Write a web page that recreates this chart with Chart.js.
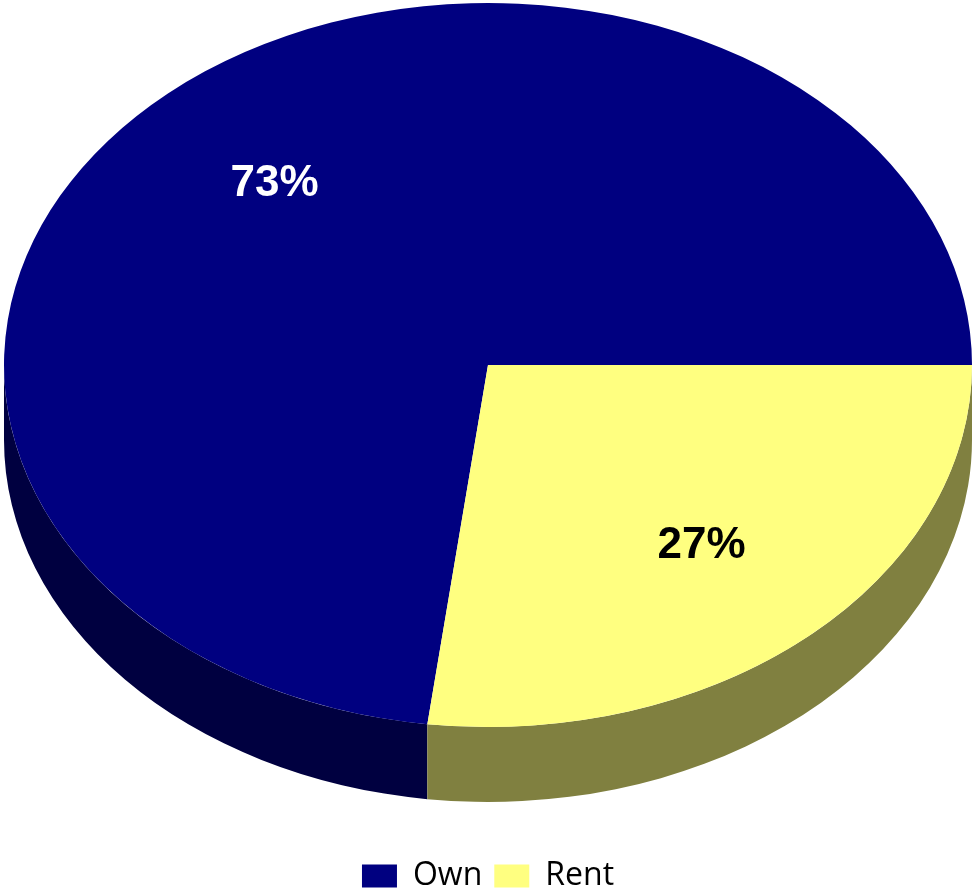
<!DOCTYPE html>
<html>
<head>
<meta charset="utf-8">
<script src="https://cdn.jsdelivr.net/npm/chart.js@4.4.1/dist/chart.umd.min.js"></script>
<style>
  html, body { margin: 0; padding: 0; background: #fff; }
  #wrap { width: 972px; height: 892px; position: relative; }
</style>
</head>
<body>
<div id="wrap"><canvas id="grafico"></canvas></div>
<script>
// dados do gráfico
const categorias = ["Own", "Rent"];
const valores = [73, 27];
const rotulos = ["73%", "27%"];

const coresTopo = ["#000080", "#FFFF80"];
const coresLado = ["#000040", "#808040"];
const coresTexto = ["#ffffff", "#000000"];

// parâmetros do efeito 3D
const CENTRO_Y = 365;
const ACHATAMENTO = 362 / 484;
const PROFUNDIDADE = 75;

const pizza3d = {
    id: "pizza3d",
    beforeDatasetsDraw(chart) {
        const ctx = chart.ctx;
        const arcos = chart.getDatasetMeta(0).data;
        const y0 = arcos[0].y;
        ctx.save();
        ctx.translate(0, CENTRO_Y);
        ctx.scale(1, ACHATAMENTO);
        ctx.translate(0, -y0);

        // lateral (só a metade da frente aparece)
        const d = PROFUNDIDADE / ACHATAMENTO;
        arcos.forEach((arco, i) => {
            const p = arco.getProps(["x", "y", "startAngle", "endAngle", "outerRadius"], true);
            for (let k = -1; k <= 1; k++) {
                const s = Math.max(p.startAngle + k * 2 * Math.PI, 0);
                const e = Math.min(p.endAngle + k * 2 * Math.PI, Math.PI);
                if (e <= s) continue;
                ctx.beginPath();
                ctx.arc(p.x, p.y, p.outerRadius, s, e);
                ctx.arc(p.x, p.y + d, p.outerRadius, e, s, true);
                ctx.closePath();
                ctx.fillStyle = coresLado[i];
                ctx.fill();
            }
        });
    },
    afterDatasetsDraw(chart) {
        const ctx = chart.ctx;
        ctx.restore();

        // rótulos de porcentagem
        const arcos = chart.getDatasetMeta(0).data;
        ctx.save();
        ctx.font = "bold 44px 'Liberation Sans', Arial, sans-serif";
        ctx.textAlign = "center";
        ctx.textBaseline = "middle";
        arcos.forEach((arco, i) => {
            const p = arco.getProps(["x", "startAngle", "endAngle", "outerRadius"], true);
            const meio = (p.startAngle + p.endAngle) / 2;
            const r = p.outerRadius * 0.667;
            const x = p.x + Math.cos(meio) * r;
            const y = CENTRO_Y + Math.sin(meio) * r * ACHATAMENTO;
            ctx.fillStyle = coresTexto[i];
            ctx.fillText(rotulos[i], x, y);
        });
        ctx.restore();
    }
};

new Chart(document.getElementById("grafico"), {
    type: "pie",
    data: {
        labels: categorias,
        datasets: [{
            data: valores,
            backgroundColor: coresTopo,
            borderWidth: 0,
            radius: 484,
            clip: false
        }]
    },
    options: {
        responsive: true,
        maintainAspectRatio: false,
        animation: false,
        events: [],
        rotation: 90 - 262.8,
        layout: { padding: { left: 4, bottom: -10 } },
        plugins: {
            legend: {
                position: "bottom",
                labels: {
                    boxWidth: 35,
                    boxHeight: 23,
                    padding: 12,
                    color: "#000",
                    font: { family: "'Open Sans', sans-serif", size: 32 }
                }
            },
            tooltip: { enabled: false }
        }
    },
    plugins: [pizza3d]
});
</script>
</body>
</html>
